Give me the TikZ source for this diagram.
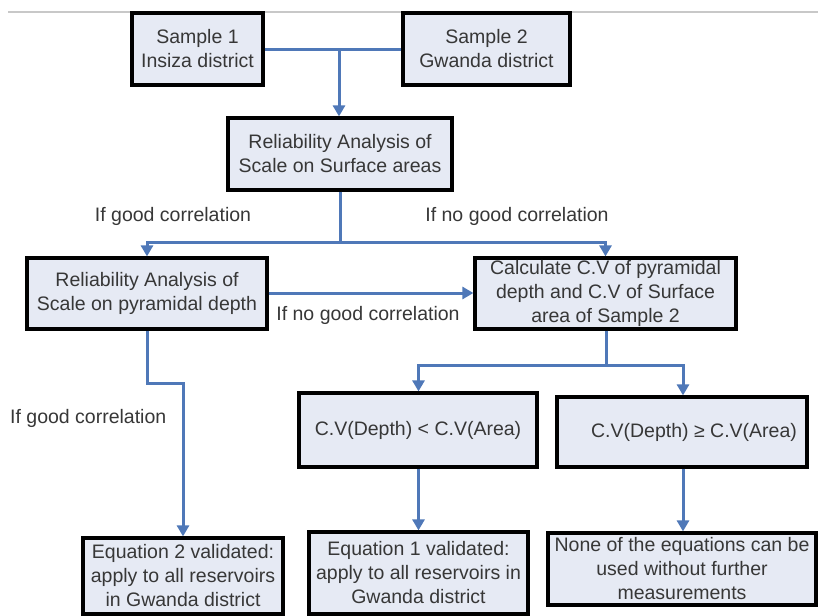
\documentclass[tikz,border=0pt]{standalone}
\usepackage{fontspec}
\setmainfont{Liberation Sans}
\usetikzlibrary{arrows.meta}
\definecolor{boxfill}{RGB}{230,234,244}
\definecolor{conn}{RGB}{79,120,184}
\definecolor{txt}{RGB}{55,55,55}
\definecolor{topline}{RGB}{200,200,200}
\newcommand\fsz{\fontsize{19.5}{24}\selectfont}
\begin{document}
\begin{tikzpicture}[x=1pt,y=-1pt,
  fbox/.style={draw=black, line width=3.2pt, fill=boxfill, inner sep=0pt, align=center, text=txt, font=\fsz},
  lab/.style={text=txt, font=\fsz, inner sep=0pt},
  link/.style={draw=conn, line width=3pt},
  arr/.style={link, -{Triangle[width=12pt,length=11pt]}}]
\useasboundingbox (0,0) rectangle (818,615);
\fill[white] (0,0) rectangle (818,615);
\coordinate (tl0) at (8,12);
\coordinate (tl1) at (818,12);
\draw[topline, line width=1.2pt] (tl0) -- (tl1);
% boxes
\node[fbox, minimum width=131pt, minimum height=72pt] (s1) at (197.5,49) {Sample 1\\Insiza district};
\node[fbox, minimum width=167pt, minimum height=72pt] (s2) at (486.5,49) {Sample 2\\Gwanda district};
\node[fbox, minimum width=224pt, minimum height=72pt] (r1) at (340,154) {Reliability Analysis of\\Scale on Surface areas};
\node[fbox, minimum width=240pt, minimum height=71pt] (r2) at (147,293.5) {Reliability Analysis of\\Scale on pyramidal depth};
\node[fbox, minimum width=261pt, minimum height=71pt] (cv) at (605.5,293.5) {Calculate C.V of pyramidal\\depth and C.V of Surface\\area of Sample 2};
\node[fbox, minimum width=238pt, minimum height=74pt] (lt) at (418,430) {C.V(Depth) < C.V(Area)};
\node[fbox, minimum width=250pt, minimum height=70pt] (ge) at (682,432) {\hspace*{24pt}C.V(Depth) ≥ C.V(Area)};
\node[fbox, minimum width=200pt, minimum height=76pt] (e2) at (183,576) {Equation 2 validated:\\apply to all reservoirs\\in Gwanda district};
\node[fbox, minimum width=219pt, minimum height=82pt] (e1) at (418.5,573) {Equation 1 validated:\\apply to all reservoirs in\\Gwanda district};
\node[fbox, minimum width=268pt, minimum height=72pt] (no) at (682,569) {None of the equations can be\\used without further\\measurements};
% labels
\node[lab] (l1) at (173,216) {If good correlation};
\node[lab] (l2) at (517,216) {If no good correlation};
\node[lab] (l3) at (368,315) {If no good correlation};
\node[lab, anchor=west] (l4) at (10,418) {If good correlation};
% connectors
\coordinate (j1) at (339,50);
\draw[link] (s1.east |- j1) -- (s2.west |- j1);
\draw[arr] (j1) -- (r1.north -| j1);
\coordinate (j2) at (340,242);
\draw[link] (r1.south) -- (j2);
\draw[arr] (j2) -| (r2.north);
\draw[arr] (j2) -| (cv.north);
\draw[arr] (r2.east |- 0,293) -- (cv.west |- 0,293);
\coordinate (k1) at (147,383);
\draw[arr] (r2.south) -- (k1) -| (e2.north);
\coordinate (j3) at (606,365);
\draw[link] (cv.south -| j3) -- (j3);
\draw[arr] (j3) -| (lt.north -| e1.north);
\coordinate (gex) at (683,0);
\draw[arr] (j3) -| (ge.north -| gex);
\draw[arr] (lt.south -| e1.north) -- (e1.north);
\draw[arr] (ge.south -| gex) -- (no.north -| gex);
\end{tikzpicture}
\end{document}
